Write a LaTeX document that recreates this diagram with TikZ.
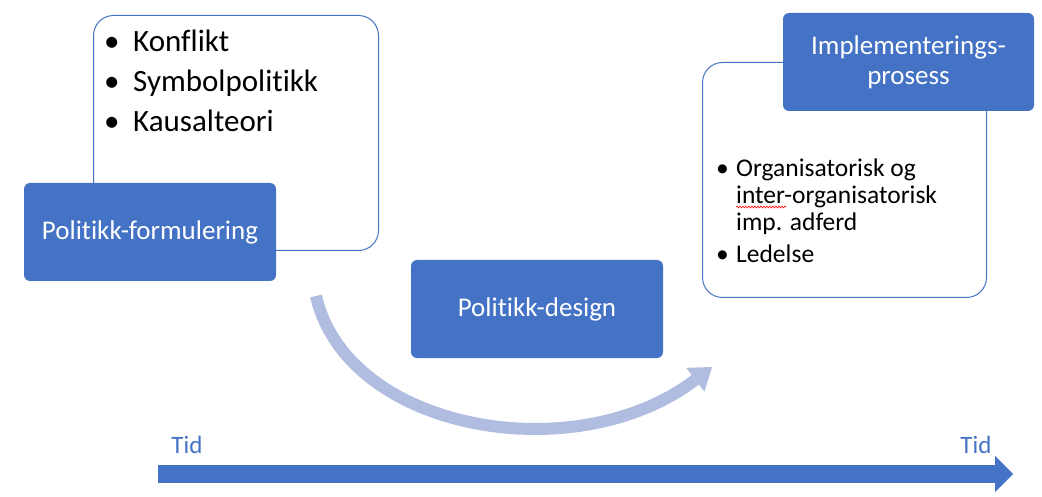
\documentclass[tikz,border=0pt]{standalone}
\usepackage{fontspec}
\setmainfont[Ligatures=NoCommon]{Carlito}
\usetikzlibrary{arrows.meta,decorations.pathmorphing}

\definecolor{offblue}{HTML}{4472C4}
\definecolor{paleblue}{HTML}{B0BCE0}

\begin{document}
\begin{tikzpicture}[x=1pt,y=-1pt,
    outbox/.style={draw=offblue,line width=1pt,fill=white,rounded corners=20pt,anchor=north west},
    phase/.style={fill=offblue,rounded corners=6pt,text=white,minimum width=252pt,minimum height=98pt,
        font=\fontsize{27}{30}\selectfont,align=center},
    bul/.style={anchor=base west,inner sep=0pt},
    tid/.style={text=offblue,anchor=base,inner sep=0pt,font=\fontsize{25}{30}\selectfont}]
    \useasboundingbox (0,0) rectangle (1042,497);

    \node [outbox,minimum width=285pt,minimum height=235pt] (leftbox) at (93,15) {};
    \node [bul,font=\fontsize{31}{40}\selectfont] (leftlist) at (104,52) {%
        \begin{tabular}[t]{@{}p{29pt}@{}l@{}}
        \textbullet & Konflikt\\
        \textbullet & Symbolpolitikk\\
        \textbullet & Kausalteori
        \end{tabular}};
    \node [phase] (form) at (150,232) {Politikk-formulering};

    \node [phase] (design) at (537,309) {Politikk-design};

    \node [outbox,minimum width=284pt,minimum height=235pt] (rightbox) at (702,62) {};
    \node [bul,font=\fontsize{25.5}{27}\selectfont] (rightlist) at (716,177) {%
        \begin{tabular}[t]{@{}p{20pt}@{}l@{}}
        \textbullet & Organisatorisk og\\
                    & inter-organisatorisk\\
                    & imp. adferd\\[5pt]
        \textbullet & Ledelse
        \end{tabular}};
    \draw [red,line width=0.6pt,decorate,decoration={snake,amplitude=0.9pt,segment length=3pt}]
        (736,207) -- (786,207);
    \node [phase,minimum width=251pt] (impl) at (908.5,62) {Implementerings-\\prosess};

    \coordinate (cs) at (316,296);
    \coordinate (ce) at (712,367);
    \draw [paleblue,line width=12pt,-{Triangle[width=30pt,length=21pt,line width=0pt]}]
        (cs) .. controls +(31,135) and +(-136,104) .. (ce);

    \coordinate (t0) at (158,474);
    \coordinate (t1) at (1013,474);
    \draw [offblue,line width=18pt,-{Triangle[width=36pt,length=18pt,line width=0pt]}] (t0) -- (t1);
    \node [tid] (tid0) at (187,453) {Tid};
    \node [tid] (tid1) at (976,453) {Tid};
\end{tikzpicture}
\end{document}
